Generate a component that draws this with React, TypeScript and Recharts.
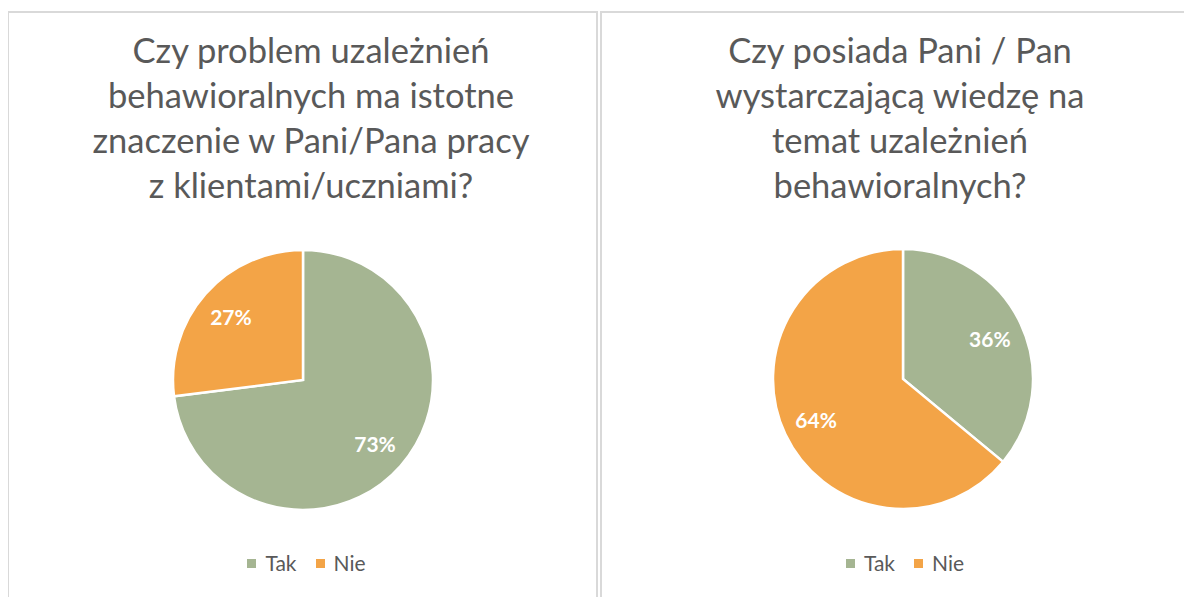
import React from "react"
import { PieChart, Pie, Cell, Legend } from "recharts"

// answers (percent)
const categories = ["Tak", "Nie"]
const colors = ["#A5B592", "#F3A447"]
const importanceValues = [73, 27]
const knowledgeValues = [36, 64]

const importanceTitle = [
  "Czy problem uzależnień",
  "behawioralnych ma istotne",
  "znaczenie w Pani/Pana pracy",
  "z klientami/uczniami?",
]
const knowledgeTitle = [
  "Czy posiada Pani / Pan",
  "wystarczającą wiedzę na",
  "temat uzależnień",
  "behawioralnych?",
]

const FONT = "Lato, 'Open Sans', sans-serif"
const TEXT = "#595959"
const RADIAN = Math.PI / 180

function pctLabel(props: any) {
  const { cx, cy, midAngle, value } = props
  const r = 96
  const x = cx + r * Math.cos(-midAngle * RADIAN)
  const y = cy + r * Math.sin(-midAngle * RADIAN)
  return (
    <text x={x} y={y} fill="#fff" textAnchor="middle" dominantBaseline="central"
      fontFamily={FONT} fontWeight={700} fontSize={21}>
      {value}%
    </text>
  )
}

// keep the legend in data order (Tak, Nie)
function LegendContent({ payload }: any) {
  const items = categories.map((c, i) => {
    const p = (payload || []).find((q: any) => q.value === c)
    return { value: c, color: (p && p.color) || colors[i] }
  })
  return (
    <div style={{ display: "flex", justifyContent: "center", alignItems: "center",
      fontFamily: FONT, fontSize: 21, color: TEXT, lineHeight: "24px" }}>
      {items.map((p, i) => (
        <span key={i} style={{ display: "inline-flex", alignItems: "center", marginRight: i < items.length - 1 ? 19 : 0 }}>
          <span style={{ display: "inline-block", width: 9, height: 9, background: p.color, marginRight: 9 }} />
          {p.value}
        </span>
      ))}
    </div>
  )
}

function Panel({ title, values, left, width, cx, cy, titleX, legendShift }: any) {
  const data = categories.map((name, i) => ({ name, value: values[i] }))
  const inner = width - 4
  return (
    <div style={{ position: "absolute", left, top: 11, width, height: 620, boxSizing: "border-box",
      border: "2px solid #D9D9D9" }}>
      {title.map((line: string, i: number) => (
        <div key={i} style={{ position: "absolute", left: titleX - 300, width: 600, top: 14 + i * 45,
          textAlign: "center", fontFamily: FONT, fontSize: 34.5, lineHeight: "45px", color: TEXT, whiteSpace: "nowrap" }}>
          {line}
        </div>
      ))}
      <div style={{ position: "absolute", left: 0, top: 0 }}>
        <PieChart width={inner} height={600} margin={{ top: 0, right: 0, bottom: 0, left: 0 }}>
          <Pie data={data} dataKey="value" nameKey="name" cx={cx} cy={cy} outerRadius={130}
            startAngle={90} endAngle={-270} stroke="#fff" strokeWidth={2.5}
            label={pctLabel} labelLine={false} isAnimationActive={false}>
            {data.map((d, i) => <Cell key={d.name} fill={colors[i]} />)}
          </Pie>
          <Legend verticalAlign="bottom" content={<LegendContent />}
            wrapperStyle={{ top: 538, left: legendShift, width: inner, bottom: "auto" }} />
        </PieChart>
      </div>
    </div>
  )
}

export default function App() {
  return (
    <div style={{ position: "relative", width: 1192, height: 597, margin: "-8px 0 0 -8px",
      overflow: "hidden", background: "#fff" }}>
      <Panel title={importanceTitle} values={importanceValues} left={7} width={591}
        cx={294} cy={367} titleX={302} legendShift={4} />
      <Panel title={knowledgeTitle} values={knowledgeValues} left={600} width={610}
        cx={301} cy={366} titleX={298} legendShift={0} />
    </div>
  )
}
